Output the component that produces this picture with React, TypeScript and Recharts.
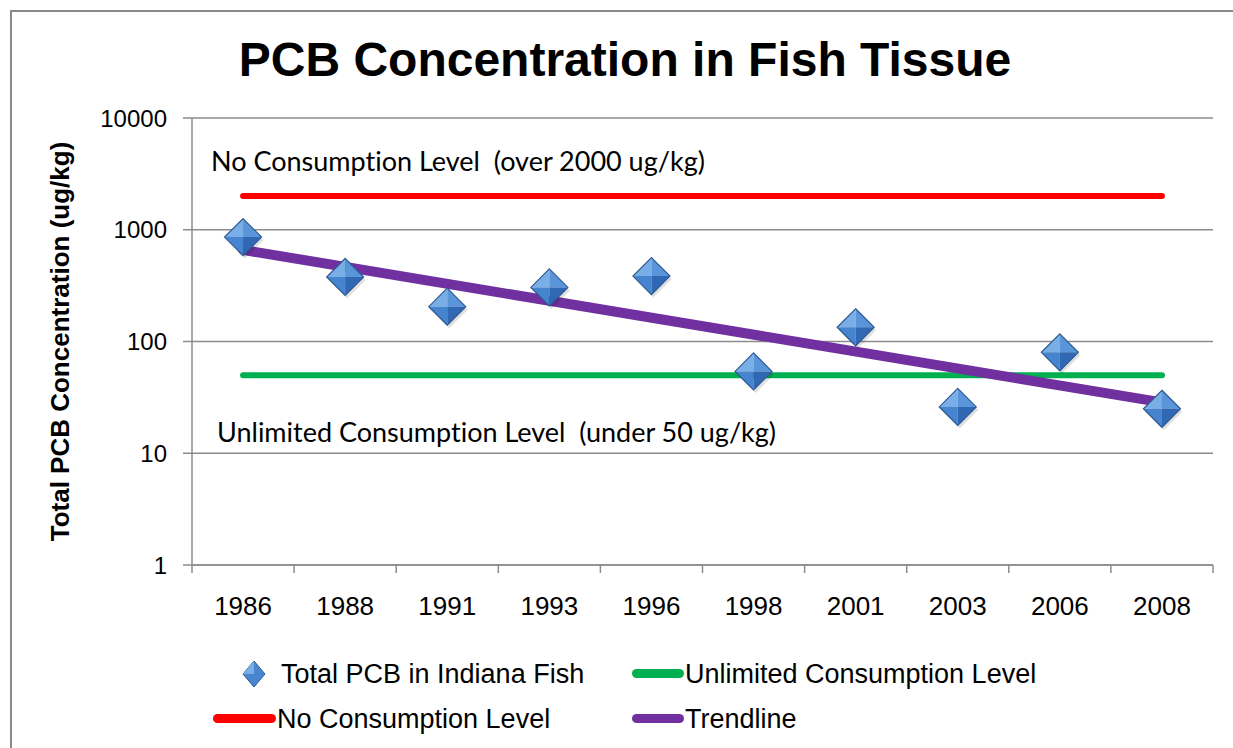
import React from 'react';
import { ComposedChart, Line, XAxis, YAxis, CartesianGrid, Legend } from 'recharts';

const categories = ['1986', '1988', '1991', '1993', '1996', '1998', '2001', '2003', '2006', '2008'];
const pcbValues = [860, 378, 205, 305, 385, 54, 134, 26, 80, 25];
const unlimitedLevel = [50, 50, 50, 50, 50, 50, 50, 50, 50, 50];
const noConsumptionLevel = [2000, 2000, 2000, 2000, 2000, 2000, 2000, 2000, 2000, 2000];
const trendValues: (number | null)[] = [660, null, null, null, null, null, null, null, null, 28.5];
const yTicks = [1, 10, 100, 1000, 10000];

const data = categories.map((year, i) => ({
  year,
  pcb: pcbValues[i],
  unlimited: unlimitedLevel[i],
  noCons: noConsumptionLevel[i],
  trend: trendValues[i],
}));

const FONT = '"Liberation Sans", Arial, sans-serif';
const GRID = '#8c8c8c';

const Diamond = ({ cx, cy, r = 18.5 }: { cx: number; cy: number; r?: number }) => (
  <g>
    <polygon
      points={`${cx + 2},${cy - r + 3} ${cx + r + 2},${cy + 3} ${cx + 2},${cy + r + 3} ${cx - r + 2},${cy + 3}`}
      fill="rgba(0,0,0,0.12)"
    />
    <polygon points={`${cx},${cy - r} ${cx},${cy} ${cx - r},${cy}`} fill="#79aee6" />
    <polygon points={`${cx},${cy - r} ${cx + r},${cy} ${cx},${cy}`} fill="#5b95d9" />
    <polygon points={`${cx - r},${cy} ${cx},${cy} ${cx},${cy + r}`} fill="#4684cf" />
    <polygon points={`${cx},${cy} ${cx + r},${cy} ${cx},${cy + r}`} fill="#3068b4" />
    <polygon
      points={`${cx},${cy - r} ${cx + r},${cy} ${cx},${cy + r} ${cx - r},${cy}`}
      fill="none"
      stroke="#2d5a92"
      strokeWidth={1.2}
    />
  </g>
);

const renderDiamond = (props: any) => {
  const { cx, cy, index } = props;
  if (cx == null || cy == null) return <g key={`d-${index}`} />;
  return (
    <g key={`d-${index}`}>
      <Diamond cx={cx} cy={cy} />
    </g>
  );
};

const XTick = (props: any) => {
  const { x, y, payload, index, visibleTicksCount } = props;
  const off = payload && payload.offset ? payload.offset : 0;
  return (
    <g>
      <line x1={x - off} x2={x - off} y1={y} y2={y + 8} stroke={GRID} strokeWidth={1.5} />
      {index === visibleTicksCount - 1 && (
        <line x1={x + off} x2={x + off} y1={y} y2={y + 8} stroke={GRID} strokeWidth={1.5} />
      )}
      <text x={x} y={y + 50} textAnchor="middle" fontFamily={FONT} fontSize={26} fill="#000">
        {payload.value}
      </text>
    </g>
  );
};

const LegendContent = () => {
  const textStyle: React.CSSProperties = {
    position: 'absolute',
    fontFamily: FONT,
    fontSize: 27,
    color: '#000',
    lineHeight: '30px',
    whiteSpace: 'nowrap',
  };
  const lineStyle = (color: string, left: number, top: number, width: number): React.CSSProperties => ({
    position: 'absolute',
    left,
    top,
    width,
    height: 9,
    borderRadius: 5,
    background: color,
  });
  return (
    <div style={{ position: 'relative', width: 1233, height: 95 }}>
      <svg style={{ position: 'absolute', left: 241, top: 14 }} width={26} height={30}>
        <polygon points="13,2 24,15 13,28 2,15" fill="#4a86cf" stroke="#2d5a92" strokeWidth={1} />
        <polygon points="13,2 13,15 2,15" fill="#79aee6" />
      </svg>
      <div style={{ ...textStyle, left: 281, top: 14 }}>Total PCB in Indiana Fish</div>
      <div style={lineStyle('#00b050', 632, 24, 52)} />
      <div style={{ ...textStyle, left: 685, top: 14 }}>Unlimited Consumption Level</div>
      <div style={lineStyle('#ff0000', 213, 69, 63)} />
      <div style={{ ...textStyle, left: 277, top: 59 }}>No Consumption Level</div>
      <div style={lineStyle('#7030a0', 632, 69, 52)} />
      <div style={{ ...textStyle, left: 685, top: 59 }}>Trendline</div>
    </div>
  );
};

const annotationStyle: React.CSSProperties = {
  position: 'absolute',
  fontFamily: 'Lato, "Noto Sans", sans-serif',
  fontSize: 27,
  lineHeight: '30px',
  color: '#000',
  whiteSpace: 'pre',
  fontVariantLigatures: 'none',
};

export default function App() {
  return (
    <div style={{ position: 'absolute', left: 0, top: 0, width: 1233, height: 748, background: '#fff', overflow: 'hidden' }}>
      <div
        style={{
          position: 'absolute',
          left: 10,
          top: 10,
          width: 1300,
          height: 800,
          borderTop: '2px solid #8a8a8a',
          borderLeft: '2px solid #8a8a8a',
        }}
      />
      <div
        style={{
          position: 'absolute',
          left: 0,
          top: 32,
          width: 1250,
          textAlign: 'center',
          fontFamily: FONT,
          fontWeight: 'bold',
          fontSize: 48,
          lineHeight: '56px',
          color: '#000',
        }}
      >
        PCB Concentration in Fish Tissue
      </div>
      <div style={{ position: 'absolute', left: 0, top: 0 }}>
        <ComposedChart
          width={1233}
          height={748}
          data={data}
          margin={{ top: 118, right: 20, left: 0, bottom: 28 }}
        >
          <CartesianGrid horizontal vertical={false} stroke={GRID} strokeWidth={1.5} />
          <XAxis
            dataKey="year"
            scale="band"
            height={60}
            axisLine={{ stroke: GRID, strokeWidth: 1.5 }}
            tickLine={false}
            tickSize={0}
            tickMargin={0}
            tick={<XTick />}
            interval={0}
          />
          <YAxis
            scale="log"
            domain={[1, 10000]}
            ticks={yTicks}
            allowDataOverflow
            width={192}
            axisLine={{ stroke: GRID, strokeWidth: 1.5 }}
            tickLine={{ stroke: GRID, strokeWidth: 1.5 }}
            tickSize={9}
            tickMargin={16}
            tick={{ fontFamily: FONT, fontSize: 24, fill: '#000' }}
            label={{
              value: 'Total PCB Concentration (ug/kg)',
              angle: -90,
              position: 'center',
              dx: -36,
              style: { fontFamily: FONT, fontWeight: 'bold', fontSize: 26, fill: '#000' },
            }}
          />
          <Legend
            content={<LegendContent />}
            wrapperStyle={{ position: 'absolute', left: 0, top: 645, width: 1233 }}
          />
          <Line
            dataKey="unlimited"
            name="Unlimited Consumption Level"
            stroke="#00b050"
            strokeWidth={6}
            strokeLinecap="round"
            dot={false}
            activeDot={false}
            isAnimationActive={false}
          />
          <Line
            dataKey="noCons"
            name="No Consumption Level"
            stroke="#ff0000"
            strokeWidth={6}
            strokeLinecap="round"
            dot={false}
            activeDot={false}
            isAnimationActive={false}
          />
          <Line
            dataKey="pcb"
            name="Total PCB in Indiana Fish"
            stroke="none"
            dot={renderDiamond}
            activeDot={false}
            isAnimationActive={false}
          />
          <Line
            dataKey="trend"
            name="Trendline"
            stroke="#7030a0"
            strokeWidth={10}
            strokeLinecap="round"
            connectNulls
            dot={false}
            activeDot={false}
            isAnimationActive={false}
          />
        </ComposedChart>
      </div>
      <div style={{ ...annotationStyle, left: 211, top: 146 }}>{'No Consumption Level  (over 2000 ug/kg)'}</div>
      <div style={{ ...annotationStyle, left: 217, top: 417 }}>{'Unlimited Consumption Level  (under 50 ug/kg)'}</div>
    </div>
  );
}
